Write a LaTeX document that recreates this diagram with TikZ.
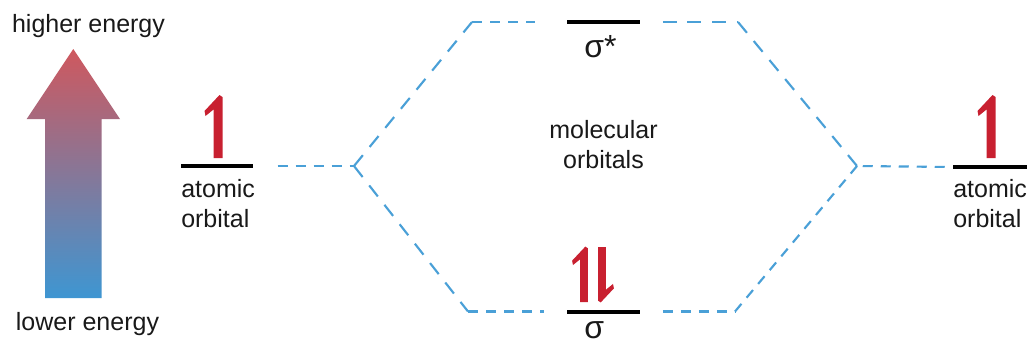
\documentclass[tikz,border=0pt]{standalone}
\usepackage{fontspec}
\setmainfont{Liberation Sans}
\definecolor{arrowhi}{RGB}{207,88,94}
\definecolor{arrowlo}{RGB}{62,150,210}
\definecolor{spincol}{RGB}{200,32,48}
\definecolor{connblue}{RGB}{74,160,215}
\definecolor{txt}{RGB}{25,25,25}
\begin{document}
\begin{tikzpicture}[x=0.75pt,y=-0.75pt,
  lvl/.style={fill=black, inner sep=0pt, minimum height=3pt, minimum width=54.5pt},
  lbl/.style={font=\fontsize{18.75}{22}\selectfont, inner sep=0pt, text=txt},
  biglbl/.style={font=\fontsize{24}{28}\selectfont, inner sep=0pt, text=txt},
  conn/.style={draw=connblue, line width=1.6pt, dash pattern=on 7.5pt off 6pt},
  connlong/.style={draw=connblue, line width=1.6pt, dash pattern=on 10.5pt off 8pt},
  spinup/.pic={\fill[spincol] (-4.5,0) -- (4.5,0) -- (4.5,-61) -- (1.5,-63) -- (-13.5,-47) -- (-12.5,-42) -- (-4.5,-48.5) -- cycle;}
]
\useasboundingbox (0,0) rectangle (1031,344);

% energy arrow
\shade[top color=arrowhi, bottom color=arrowlo]
  (45,298) -- (45,119) -- (26.7,119) -- (73.3,49) -- (120,119) -- (101.7,119) -- (101.7,298) -- cycle;
\node[lbl, anchor=base] (hi) at (88.5,32) {higher energy};
\node[lbl, anchor=base] (lo) at (87.5,330) {lower energy};

% levels
\node[lvl] (aoL) at (217,166) {};
\node[lvl, minimum width=55.5pt] (aoR) at (990,167) {};
\node[lvl] (sst) at (603.5,22) {};
\node[lvl] (sig) at (603.5,311.5) {};

% spins
\pic at (218,158) {spinup};
\pic at (991,158) {spinup};
\pic[scale=0.88] at (584,302) {spinup};
\pic[scale=0.88, rotate=180] at (602,247) {spinup};

% labels
\node[lbl, anchor=base west] (aoLa) at (181,197) {atomic};
\node[lbl, anchor=base west] (aoLb) at (181,227) {orbital};
\node[lbl, anchor=base west] (aoRa) at (953,197) {atomic};
\node[lbl, anchor=base west] (aoRb) at (953,227) {orbital};
\node[lbl, anchor=base] (mo1) at (603.5,138) {molecular};
\node[lbl, anchor=base] (mo2) at (603.5,168) {orbitals};
\node[biglbl, anchor=base west] (sstl) at (584,57) {σ*};
\node[biglbl, anchor=base west] (sigl) at (584,338.5) {σ};

% connectors
\coordinate (jL) at (354,166);
\coordinate (jR) at (857,166);
\coordinate (tL) at (472,22);
\coordinate (tR) at (738,22);
\coordinate (bL) at (468,311.5);
\coordinate (bR) at (735,311.5);

\draw[conn, shorten <=18pt] (aoL.east) -- (jL);
\draw[conn, shorten <=6pt] (aoR.west) -- (jR);
\draw[connlong] (jL) -- (tL);
\draw[conn, shorten >=24pt] (tL) -- (sst.west);
\draw[connlong] (jL) -- (bL);
\draw[conn, shorten >=17pt] (bL) -- (sig.west);
\draw[connlong, shorten <=17pt] (sst.east) -- (tR);
\draw[connlong] (tR) -- (jR);
\draw[conn, shorten <=17pt] (sig.east) -- (bR);
\draw[conn] (bR) -- (jR);
\end{tikzpicture}
\end{document}
